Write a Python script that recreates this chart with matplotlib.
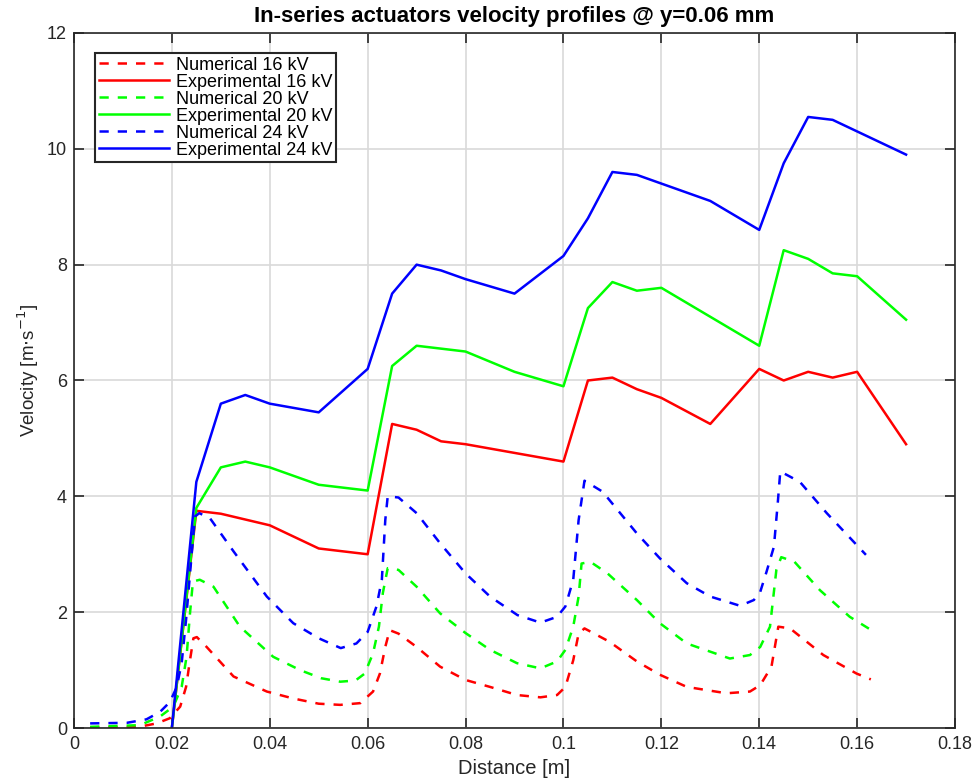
import numpy as np
import matplotlib
matplotlib.use('Agg')
import matplotlib.pyplot as plt

plt.rcParams['font.family'] = ['Liberation Sans', 'DejaVu Sans']

# Experimental measurements (same stations for every voltage)
x_exp = [0.02, 0.025, 0.03, 0.035, 0.04, 0.05, 0.06, 0.065, 0.07, 0.075, 0.08, 0.09,
         0.1, 0.105, 0.11, 0.115, 0.12, 0.13, 0.14, 0.145, 0.15, 0.155, 0.16, 0.17]
exp_16 = [0, 3.75, 3.70, 3.60, 3.50, 3.10, 3.00, 5.25, 5.15, 4.95, 4.90, 4.75,
          4.60, 6.00, 6.05, 5.85, 5.70, 5.25, 6.20, 6.00, 6.15, 6.05, 6.15, 4.90]
exp_20 = [0, 3.80, 4.50, 4.60, 4.50, 4.20, 4.10, 6.25, 6.60, 6.55, 6.50, 6.15,
          5.90, 7.25, 7.70, 7.55, 7.60, 7.10, 6.60, 8.25, 8.10, 7.85, 7.80, 7.05]
exp_24 = [0, 4.25, 5.60, 5.75, 5.60, 5.45, 6.20, 7.50, 8.00, 7.90, 7.75, 7.50,
          8.15, 8.80, 9.60, 9.55, 9.40, 9.10, 8.60, 9.75, 10.55, 10.50, 10.30, 9.90]

# Numerical profiles
x_num16 = [0.0033, 0.0132, 0.0169, 0.0196, 0.0217, 0.0229, 0.0237, 0.0244, 0.0251, 0.0271,
           0.0326, 0.0394, 0.0448, 0.05, 0.0544, 0.0585, 0.0611, 0.0625, 0.0636, 0.0645,
           0.0663, 0.07, 0.0748, 0.08, 0.085, 0.0905, 0.0953, 0.0987, 0.1004, 0.102,
           0.1031, 0.1043, 0.1094, 0.115, 0.1197, 0.1252, 0.1333, 0.1381, 0.1402, 0.1425,
           0.1439, 0.1463, 0.1531, 0.1599, 0.1628]
num_16 = [0.01, 0.02, 0.08, 0.17, 0.37, 0.71, 1.17, 1.55, 1.57, 1.40,
          0.89, 0.63, 0.51, 0.42, 0.40, 0.43, 0.63, 0.94, 1.40, 1.69,
          1.63, 1.40, 1.06, 0.83, 0.71, 0.57, 0.53, 0.57, 0.71, 1.17,
          1.63, 1.72, 1.49, 1.15, 0.92, 0.71, 0.60, 0.63, 0.74, 1.06,
          1.75, 1.72, 1.26, 0.94, 0.84]

x_num20 = [0.0033, 0.0135, 0.0176, 0.0203, 0.022, 0.023, 0.0237, 0.0243, 0.0257, 0.0285,
           0.0339, 0.0407, 0.0462, 0.0505, 0.0544, 0.0575, 0.0594, 0.0611, 0.0623, 0.0631,
           0.0641, 0.0663, 0.07, 0.0748, 0.08, 0.085, 0.0905, 0.0953, 0.0987, 0.1004,
           0.102, 0.1031, 0.1037, 0.1055, 0.109, 0.115, 0.1197, 0.1252, 0.134, 0.1381,
           0.1402, 0.1422, 0.1435, 0.1445, 0.1472, 0.1524, 0.1585, 0.1629]
num_20 = [0.02, 0.05, 0.20, 0.37, 0.71, 1.23, 1.98, 2.53, 2.56, 2.44,
          1.75, 1.23, 1.00, 0.86, 0.80, 0.82, 0.94, 1.29, 1.75, 2.33,
          2.76, 2.73, 2.44, 1.98, 1.64, 1.35, 1.12, 1.03, 1.15, 1.35,
          1.75, 2.27, 2.84, 2.87, 2.67, 2.21, 1.81, 1.46, 1.20, 1.26,
          1.40, 1.75, 2.73, 2.95, 2.87, 2.38, 1.92, 1.69]

x_num24 = [0.0033, 0.0108, 0.0148, 0.0176, 0.0196, 0.021, 0.022, 0.0229, 0.0236, 0.0243,
           0.0247, 0.0256, 0.0278, 0.0326, 0.0394, 0.0448, 0.05, 0.0545, 0.0577, 0.06,
           0.0618, 0.0629, 0.0636, 0.0641, 0.0663, 0.07, 0.0748, 0.08, 0.085, 0.0906,
           0.0953, 0.0987, 0.1004, 0.102, 0.1031, 0.1043, 0.108, 0.115, 0.1197, 0.1252,
           0.13, 0.1361, 0.1389, 0.1402, 0.1415, 0.143, 0.1438, 0.1443, 0.1483, 0.1538,
           0.1618]
num_24 = [0.08, 0.09, 0.15, 0.28, 0.45, 0.71, 1.12, 1.87, 2.56, 3.25,
          3.65, 3.71, 3.62, 3.05, 2.27, 1.81, 1.55, 1.38, 1.46, 1.66,
          2.10, 2.56, 3.59, 4.00, 3.98, 3.71, 3.19, 2.67, 2.27, 1.95,
          1.82, 1.92, 2.10, 2.56, 3.59, 4.27, 4.08, 3.36, 2.93, 2.50,
          2.27, 2.11, 2.21, 2.35, 2.70, 3.13, 3.90, 4.43, 4.25, 3.71,
          2.99]

fig = plt.figure(figsize=(9.76, 7.83), dpi=100)
ax = fig.add_axes([0.0758, 0.0702, 0.9027, 0.8877])

lw = 1.8
dash = (3.7, 3.6)
ax.plot(x_num16, num_16, color='#ff0000', lw=lw, dashes=dash, label='Numerical 16 kV')
ax.plot(x_exp, exp_16, color='#ff0000', lw=lw, label='Experimental 16 kV')
ax.plot(x_num20, num_20, color='#00ff00', lw=lw, dashes=dash, label='Numerical 20 kV')
ax.plot(x_exp, exp_20, color='#00ff00', lw=lw, label='Experimental 20 kV')
ax.plot(x_num24, num_24, color='#0000ff', lw=lw, dashes=dash, label='Numerical 24 kV')
ax.plot(x_exp, exp_24, color='#0000ff', lw=lw, label='Experimental 24 kV')

ax.set_xlim(0, 0.18)
ax.set_ylim(0, 12)
ax.set_xticks(np.arange(0, 0.181, 0.02))
ax.set_xticklabels(['0', '0.02', '0.04', '0.06', '0.08', '0.1', '0.12', '0.14', '0.16', '0.18'])
ax.set_yticks(range(0, 13, 2))
ax.tick_params(direction='in', length=7, width=1.2, labelsize=13, colors='#262626',
               top=True, right=True)
ax.tick_params(axis='x', pad=6)
ax.tick_params(axis='y', pad=5)
for s in ax.spines.values():
    s.set_color('#262626')
    s.set_linewidth(1.2)
ax.grid(True, color='#d9d9d9', lw=1.2)
ax.set_axisbelow(True)

ax.set_xlabel('Distance [m]', fontsize=14.5, color='#262626', labelpad=4)
ax.set_ylabel(r'Velocity [m$\cdot$s$^{-1}$]', fontsize=13.5, color='#262626')
ax.yaxis.set_label_coords(-0.037, 0.514)
ax.set_title('In-series actuators velocity profiles @ y=0.06 mm', fontsize=16,
             fontweight='bold', pad=8)

leg = ax.legend(loc='upper left', bbox_to_anchor=(21 / 881, 1 - 20 / 695), borderaxespad=0,
                fontsize=13, handlelength=3.9, handletextpad=0.4, labelspacing=0.0,
                borderpad=0.2, fancybox=False, framealpha=1)
leg.get_frame().set_edgecolor('#262626')
leg.get_frame().set_linewidth(1.5)

fig.savefig('out.png', dpi=100)
